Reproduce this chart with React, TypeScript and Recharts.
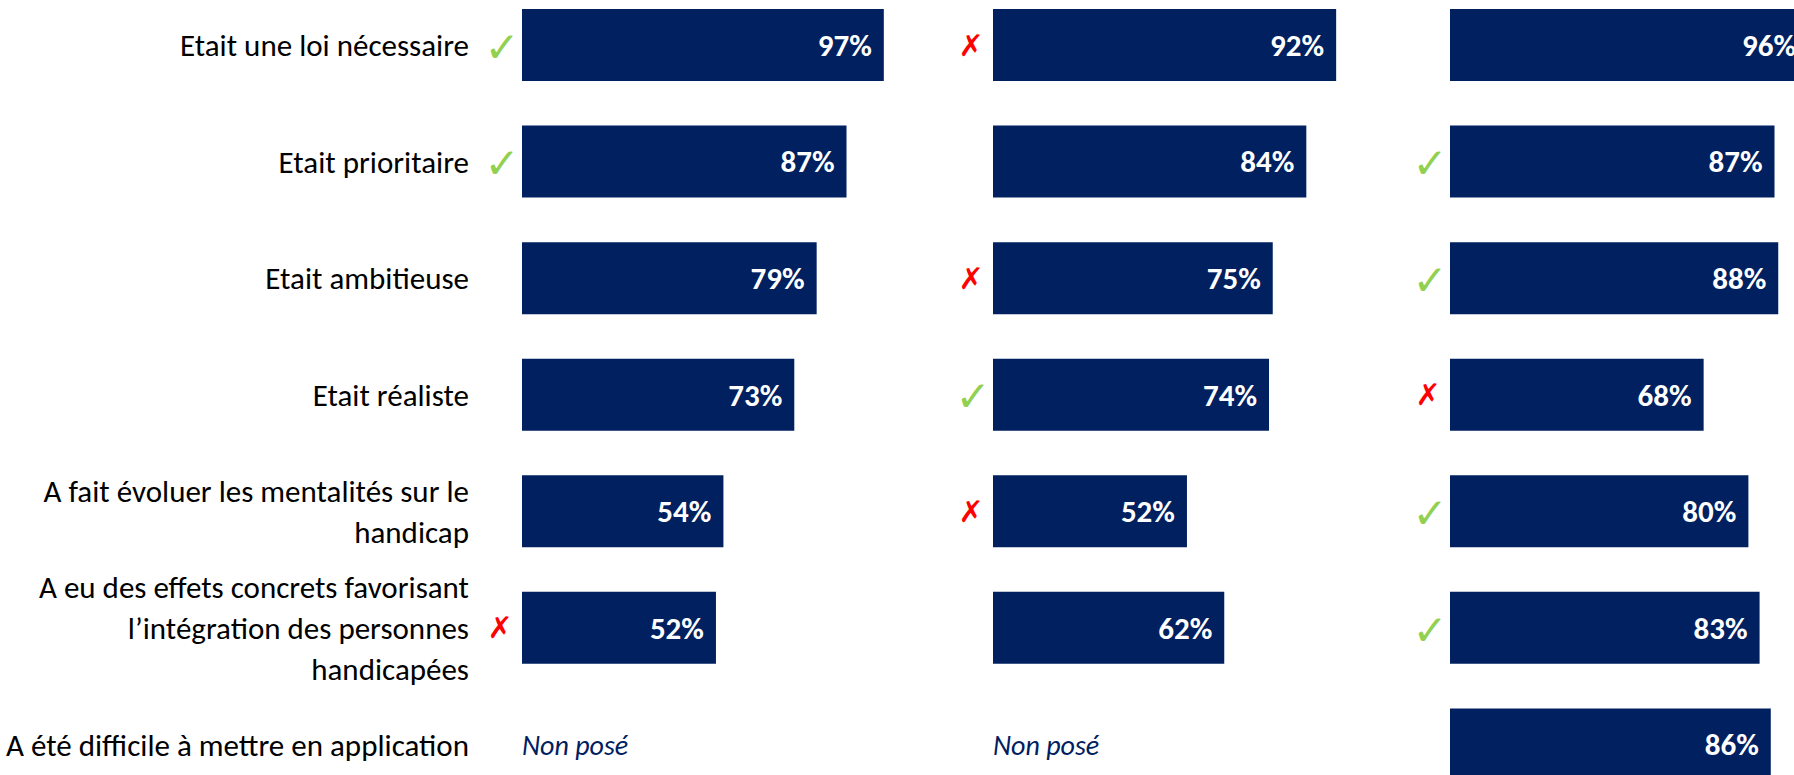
import React from "react";
import { BarChart, Bar, XAxis, YAxis, LabelList, ReferenceDot } from "recharts";

// Items, one per row
const ITEMS = [
  "Etait une loi nécessaire",
  "Etait prioritaire",
  "Etait ambitieuse",
  "Etait réaliste",
  "A fait évoluer les mentalités sur le\nhandicap",
  "A eu des effets concrets favorisant\nl’intégration des personnes\nhandicapées",
  "A été difficile à mettre en application",
];

// Share of "yes" per panel (null = question not asked)
const PANEL_A = [97, 87, 79, 73, 54, 52, null];
const PANEL_B = [92, 84, 75, 74, 52, 62, null];
const PANEL_C = [96, 87, 88, 68, 80, 83, 86];

// Significant differences: "up" = green tick, "down" = red cross
const MARKS_A = ["up", "up", "", "", "", "down", ""];
const MARKS_B = ["down", "", "down", "up", "down", "", ""];
const MARKS_C = ["", "up", "up", "down", "up", "up", ""];

const NOT_ASKED = "Non posé";

const NAVY = "#002060";
const FONT = "Carlito, Lato, 'Open Sans', sans-serif";

const data = ITEMS.map((item, i) => ({
  item,
  a: PANEL_A[i],
  b: PANEL_B[i],
  c: PANEL_C[i],
  ma: MARKS_A[i],
  mb: MARKS_B[i],
  mc: MARKS_C[i],
}));

const PLOT_W = 373; // px for 100%
const PLOT_H = 816; // 7 rows
const TOP = -13;

function ItemTick({ x, y, payload }: any) {
  const lines = String(payload.value).split("\n");
  const lh = 41;
  const y0 = y - ((lines.length - 1) * lh) / 2;
  return (
    <text textAnchor="end" fontSize={31} fill="#000" fontFamily={FONT}>
      {lines.map((l, i) => (
        <tspan key={i} x={x} y={y0 + i * lh} dy="0.35em">
          {l}
        </tspan>
      ))}
    </text>
  );
}

function ValueLabel(props: any) {
  const { x, y, width, height, value } = props;
  if (value == null) return null;
  return (
    <text
      x={x + width - 12}
      y={y + height / 2}
      dy="0.35em"
      textAnchor="end"
      fill="#fff"
      fontWeight={700}
      fontSize={31}
      fontFamily={FONT}
    >
      {value}%
    </text>
  );
}

function NotAskedLabel({ viewBox }: any) {
  if (!viewBox) return null;
  return (
    <text x={viewBox.x} y={viewBox.y} dy="0.35em" fill={NAVY} fontStyle="italic" fontSize={28} fontFamily={FONT}>
      {NOT_ASKED}
    </text>
  );
}

function Mark(props: any) {
  const { x, y, height, value } = props;
  if (!value) return null;
  const cy = y + height / 2;
  if (value === "up") {
    return (
      <text x={x - 20} y={cy + 2} dy="0.35em" textAnchor="middle" fill="#92D050" fontSize={42} fontFamily="DejaVu Sans">
        ✓
      </text>
    );
  }
  return (
    <text x={x - 22} y={cy} dy="0.35em" textAnchor="middle" fill="#FF0000" fontSize={30} fontFamily="DejaVu Sans">
      ✗
    </text>
  );
}

function Panel({
  valueKey,
  values,
  markKey,
  left,
  axisWidth,
  marginLeft,
}: {
  valueKey: string;
  values: (number | null)[];
  markKey: string;
  left: number;
  axisWidth: number;
  marginLeft: number;
}) {
  const width = axisWidth + marginLeft + PLOT_W + 120;
  return (
    <div style={{ position: "absolute", left, top: TOP }}>
      <BarChart
        width={width}
        height={PLOT_H}
        data={data}
        layout="vertical"
        margin={{ top: 0, right: 120, bottom: 0, left: marginLeft }}
      >
        <XAxis type="number" domain={[0, 100]} hide />
        <YAxis
          type="category"
          dataKey="item"
          width={axisWidth}
          hide={axisWidth === 0}
          axisLine={false}
          tickLine={false}
          tickSize={0}
          tickMargin={53}
          tick={<ItemTick />}
          interval={0}
        />
        <Bar dataKey={valueKey} fill={NAVY} barSize={72} isAnimationActive={false}>
          <LabelList dataKey={valueKey} content={<ValueLabel />} />
          <LabelList dataKey={markKey} content={<Mark />} />
        </Bar>
        {ITEMS.map((item, i) =>
          values[i] == null ? (
            <ReferenceDot
              key={item}
              x={0}
              y={item}
              r={0}
              fill="none"
              stroke="none"
              label={<NotAskedLabel />}
            />
          ) : null
        )}
      </BarChart>
    </div>
  );
}

export default function App() {
  return (
    <div
      style={{
        position: "absolute",
        left: 0,
        top: 0,
        width: 1794,
        height: 775,
        overflow: "hidden",
        background: "#fff",
      }}
    >
      <Panel valueKey="a" values={PANEL_A} markKey="ma" left={0} axisWidth={522} marginLeft={0} />
      <Panel valueKey="b" values={PANEL_B} markKey="mb" left={943} axisWidth={0} marginLeft={50} />
      <Panel valueKey="c" values={PANEL_C} markKey="mc" left={1400} axisWidth={0} marginLeft={50} />
    </div>
  );
}
